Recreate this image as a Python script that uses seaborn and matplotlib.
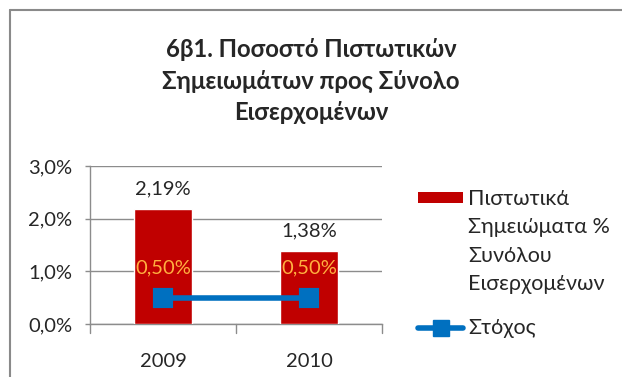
import matplotlib
matplotlib.use("Agg")
import matplotlib.pyplot as plt
from matplotlib.lines import Line2D
from matplotlib.patches import Rectangle
import seaborn as sns

# Data
years = ["2009", "2010"]
credit_notes_pct = [2.19, 1.38]   # Πιστωτικά Σημειώματα % Συνόλου Εισερχομένων
target_pct = [0.50, 0.50]         # Στόχος
y_ticks = [0.0, 1.0, 2.0, 3.0]

title = "6β1. Ποσοστό Πιστωτικών\nΣημειωμάτων προς Σύνολο\nΕισερχομένων"
bar_label_lines = ["Πιστωτικά", "Σημειώματα %", "Συνόλου", "Εισερχομένων"]
line_label = "Στόχος"

BAR_COLOR = "#C00000"
LINE_COLOR = "#0070C0"
GRID_COLOR = "#8C8C8C"
TEXT_COLOR = "#262626"
TARGET_LABEL_COLOR = "#FFB040"

sns.set_theme(style="white")
plt.rcParams["font.family"] = ["Lato", "DejaVu Sans"]

W, H = 622, 377
fig = plt.figure(figsize=(W / 100, H / 100), dpi=100)


def fx(x):
    return x / W


def fy(y):
    return 1 - y / H


ax = fig.add_axes([fx(90), fy(324), fx(382) - fx(90), fy(166) - fy(324)])

sns.barplot(x=years, y=credit_notes_pct, color=BAR_COLOR, width=0.4,
            saturation=1, ax=ax, zorder=3)
sns.pointplot(x=years, y=target_pct, color=LINE_COLOR, marker="s",
              markersize=12, linewidth=4, errorbar=None, ax=ax, zorder=4)
for line in ax.lines:
    line.set_markeredgecolor(LINE_COLOR)

ax.set_xlim(-0.5, 1.5)
ax.set_ylim(0, 3.0)
ax.set_yticks(y_ticks)
ax.set_yticklabels([f"{v:.1f}%".replace(".", ",") for v in y_ticks])
ax.set_xticks([0, 1])
ax.set_xticklabels(years)
ax.set_xlabel("")
ax.set_ylabel("")

ax.grid(axis="y", color=GRID_COLOR, linewidth=1.0, zorder=0)
ax.set_axisbelow(True)
for side in ("top", "right"):
    ax.spines[side].set_visible(False)
for side in ("left", "bottom"):
    ax.spines[side].set_color(GRID_COLOR)
    ax.spines[side].set_linewidth(1.0)

ax.tick_params(axis="y", left=True, length=3.6, width=1, color=GRID_COLOR,
               labelsize=14.5, labelcolor=TEXT_COLOR, pad=9)
ax.tick_params(axis="x", bottom=False, labelsize=14.5,
               labelcolor=TEXT_COLOR, pad=15)
# category boundary ticks on the x axis
for xb in (-0.5, 0.5, 1.5):
    ax.plot([xb, xb], [0, -0.17], color=GRID_COLOR, lw=1, clip_on=False)

# value labels
for i, v in enumerate(credit_notes_pct):
    ax.annotate(f"{v:.2f}%".replace(".", ","), (i, v), xytext=(0, 14.5),
                textcoords="offset points", ha="center", va="center",
                fontsize=14.5, color=TEXT_COLOR)
for i, v in enumerate(target_pct):
    ax.annotate(f"{v:.2f}%".replace(".", ","), (i, v), xytext=(0, 21.5),
                textcoords="offset points", ha="center", va="center",
                fontsize=14.5, color=TARGET_LABEL_COLOR)

# title
fig.text(fx(311), fy(81), title, ha="center", va="center",
         fontsize=17.2, fontweight="bold", color=TEXT_COLOR,
         linespacing=1.45)

# legend
fig.add_artist(Rectangle((fx(418), fy(203)), fx(463) - fx(418),
                         fy(192) - fy(203), transform=fig.transFigure,
                         facecolor=BAR_COLOR, edgecolor="none"))
for k, txt in enumerate(bar_label_lines):
    fig.text(fx(468), fy(199 + 28.3 * k), txt, ha="left", va="center",
             fontsize=15.5, color=TEXT_COLOR)
fig.add_artist(Line2D([fx(418), fx(463)], [fy(328), fy(328)],
                      transform=fig.transFigure, color=LINE_COLOR, lw=4))
fig.add_artist(Line2D([fx(440.5)], [fy(328)], transform=fig.transFigure,
                      color=LINE_COLOR, marker="s", markersize=12))
fig.text(fx(468), fy(328), line_label, ha="left", va="center", fontsize=15.5,
         color=TEXT_COLOR)

# chart frame (top and left edges)
fig.add_artist(Line2D([fx(9.5), 1], [fy(9.5), fy(9.5)],
                      transform=fig.transFigure, color="#8A8A8A", lw=1.5))
fig.add_artist(Line2D([fx(9.5), fx(9.5)], [fy(9.5), 0],
                      transform=fig.transFigure, color="#8A8A8A", lw=1.5))

fig.savefig("out.png", dpi=100, facecolor="white")
